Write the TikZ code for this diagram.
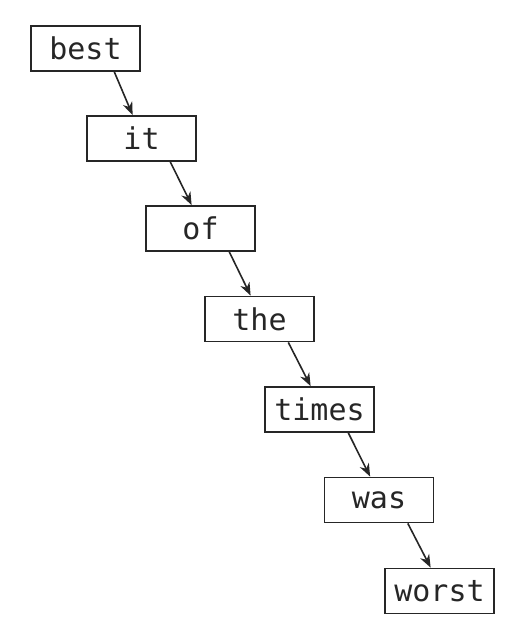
\documentclass[tikz,border=0pt]{standalone}
\usepackage{fontspec}
\setmonofont{DejaVu Sans Mono}
\usetikzlibrary{calc,arrows.meta}
\tikzset{
  word/.style={draw=black!85, line width=1.8pt, minimum width=109pt, minimum height=45pt, inner sep=0pt,
    font=\ttfamily\fontsize{30}{30}\selectfont, text=black!85},
  link/.style={draw=black!85, line width=1.6pt, -{Stealth[length=13pt,width=10pt]}}
}
\begin{document}
\begin{tikzpicture}[x=1pt,y=-1pt]
\useasboundingbox (0,0) rectangle (516,628);
\node[word] (best)  at (85.5,48.5)  {best};
\node[word] (it)    at (141.5,138.5) {it};
\node[word] (of)    at (200.5,228.5) {of};
\node[word] (the)   at (259.5,319)  {the};
\node[word] (times) at (319.5,409.5) {times};
\node[word] (was)   at (379,500)    {was};
\node[word] (worst) at (439.5,591)  {worst};
\foreach \a/\b in {best/it,it/of,of/the,the/times,times/was,was/worst}{
  \draw[link] ($(\a.south west)!0.76!(\a.south east)$) -- ($(\b.north west)!0.42!(\b.north east)$);
}
\end{tikzpicture}
\end{document}
